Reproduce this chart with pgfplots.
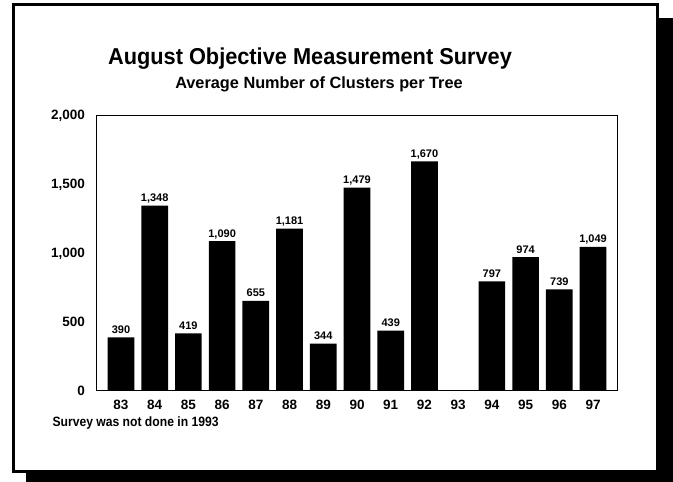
\documentclass[border=0pt]{standalone}
\usepackage{pgfplots}
\pgfplotsset{compat=1.18}
\usepackage{fontspec}
\setmainfont{Liberation Sans}
\usepackage{graphicx}

\begin{document}
\begin{tikzpicture}[x=1pt,y=1pt]
\useasboundingbox (0,0) rectangle (673,482);
% drop shadow and frame
\fill[black] (26,0) rectangle (673,464);
\filldraw[fill=white,draw=black,line width=3pt] (13.5,477.5) rectangle (657.5,10.5);

\begin{axis}[
  at={(96pt,91pt)}, anchor=south west,
  scale only axis,
  width=521pt, height=275pt,
  xmin=82.26, xmax=97.71,
  ymin=0, ymax=2000,
  xtick={83,...,97},
  ytick={0,500,1000,1500,2000},
  major tick length=0pt,
  axis line style={line width=1pt},
  /pgf/number format/assume math mode=true,
  /pgf/number format/1000 sep={,},
  ticklabel style={font=\bfseries\fontsize{13.5}{13.5}\selectfont, inner sep=0pt},
  yticklabel style={anchor=east, xshift=-11pt},
  xticklabel style={anchor=north, yshift=-9pt},
  ybar, bar width=26.7pt,
  nodes near coords,
  nodes near coords style={font=\bfseries\fontsize{11}{11}\selectfont,
    anchor=base, inner sep=0pt, yshift=4pt},
]
\addplot[fill=black, draw=none] coordinates {
  (83,390) (84,1348) (85,419) (86,1090) (87,655) (88,1181) (89,344)
  (90,1479) (91,439) (92,1670) (94,797) (95,974) (96,739) (97,1049)
};
\end{axis}

\node[anchor=base, font=\bfseries\fontsize{23}{23}\selectfont] at (310,417.7)
  {\scalebox{0.946}[1]{August Objective Measurement Survey}};
\node[anchor=base, font=\bfseries\fontsize{16.3}{16.3}\selectfont] at (319,393.7)
  {Average Number of Clusters per Tree};
\node[anchor=base west, inner sep=0pt, font=\bfseries\fontsize{13.5}{13.5}\selectfont] at (52.3,55.3)
  {\scalebox{0.9}[1]{Survey was not done in 1993}};
\end{tikzpicture}
\end{document}
